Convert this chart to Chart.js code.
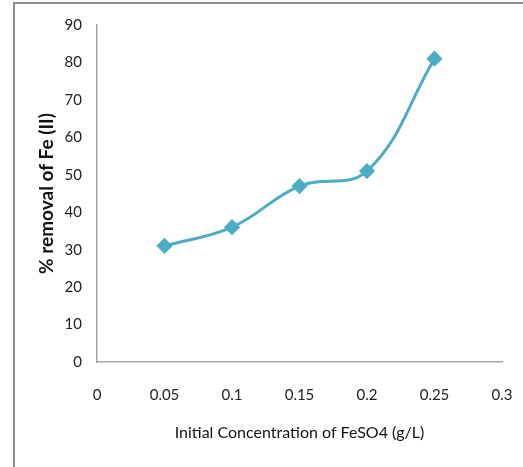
<!DOCTYPE html>
<html lang="en">
<head>
    <meta charset="UTF-8">
    <title>Fe(II) removal</title>
    <script src="https://cdn.jsdelivr.net/npm/chart.js@4.4.0/dist/chart.umd.min.js"></script>
    <style>
        html, body { margin: 0; padding: 0; background: #fff; }
        #wrap { position: relative; width: 523px; height: 467px; overflow: hidden; }
        #frame { position: absolute; left: 13px; top: 2px; right: -5px; bottom: -5px;
                 border-left: 2px solid #8e8e8e; border-top: 2px solid #8e8e8e; }
        canvas { position: absolute; left: 0; top: 0; }
    </style>
</head>
<body>
    <div id="wrap">
        <div id="frame"></div>
        <canvas id="myChart" width="523" height="467"></canvas>
    </div>

    <script>
        // concentration of FeSO4 (g/L) and % removal of Fe(II)
        const concentration = [0.05, 0.1, 0.15, 0.2, 0.25];
        const removal = [31, 36, 47, 51, 81];
        const xTicks = ['0', '0.05', '0.1', '0.15', '0.2', '0.25', '0.3'];
        const yTicks = ['0', '10', '20', '30', '40', '50', '60', '70', '80', '90'];

        const lineColor = '#4BACC6';
        const axisColor = '#a6a6a6';
        const font = "Lato, 'Open Sans', sans-serif";

        const ctx = document.getElementById('myChart').getContext('2d');
        const myChart = new Chart(ctx, {
            type: 'line',
            data: {
                datasets: [{
                    label: '% removal',
                    data: concentration.map((c, i) => ({ x: c, y: removal[i] })),
                    borderColor: lineColor,
                    backgroundColor: lineColor,
                    borderWidth: 3,
                    tension: 0.4,
                    pointStyle: 'rectRot',
                    pointRadius: 6,
                    pointHoverRadius: 6
                }]
            },
            options: {
                responsive: false,
                animation: false,
                layout: { padding: { left: 35, top: 25, right: 21, bottom: 20 } },
                plugins: { legend: { display: false }, tooltip: { enabled: false } },
                scales: {
                    x: {
                        type: 'linear',
                        min: 0,
                        max: 0.3,
                        ticks: {
                            stepSize: 0.05,
                            padding: 4,
                            color: '#222',
                            font: { family: font, size: 15 },
                            callback: (v, i) => xTicks[i]
                        },
                        // grid hidden, tick length only pushes the labels down
                        grid: { display: false, drawTicks: true, tickLength: 20 },
                        border: { color: axisColor, width: 1.5 },
                        title: {
                            display: true,
                            text: 'Initial Concentration of FeSO4 (g/L)',
                            color: '#111',
                            font: { family: font, size: 16 },
                            padding: { top: 11, bottom: 5 }
                        },
                        afterFit: (s) => { s.height = 467 - 362 - 20; }
                    },
                    y: {
                        min: 0,
                        max: 90,
                        ticks: {
                            stepSize: 10,
                            padding: 15,
                            color: '#222',
                            font: { family: font, size: 15 },
                            callback: (v, i) => yTicks[i]
                        },
                        grid: { display: false, drawTicks: false },
                        border: { color: axisColor, width: 1.5 },
                        title: {
                            display: true,
                            text: '% removal of Fe (II)',
                            color: '#111',
                            font: { family: font, size: 19, weight: 'bold' },
                            padding: { top: 0, bottom: 0 }
                        },
                        afterFit: (s) => { s.width = 97 - 35; }
                    }
                }
            }
        });
    </script>
</body>
</html>
